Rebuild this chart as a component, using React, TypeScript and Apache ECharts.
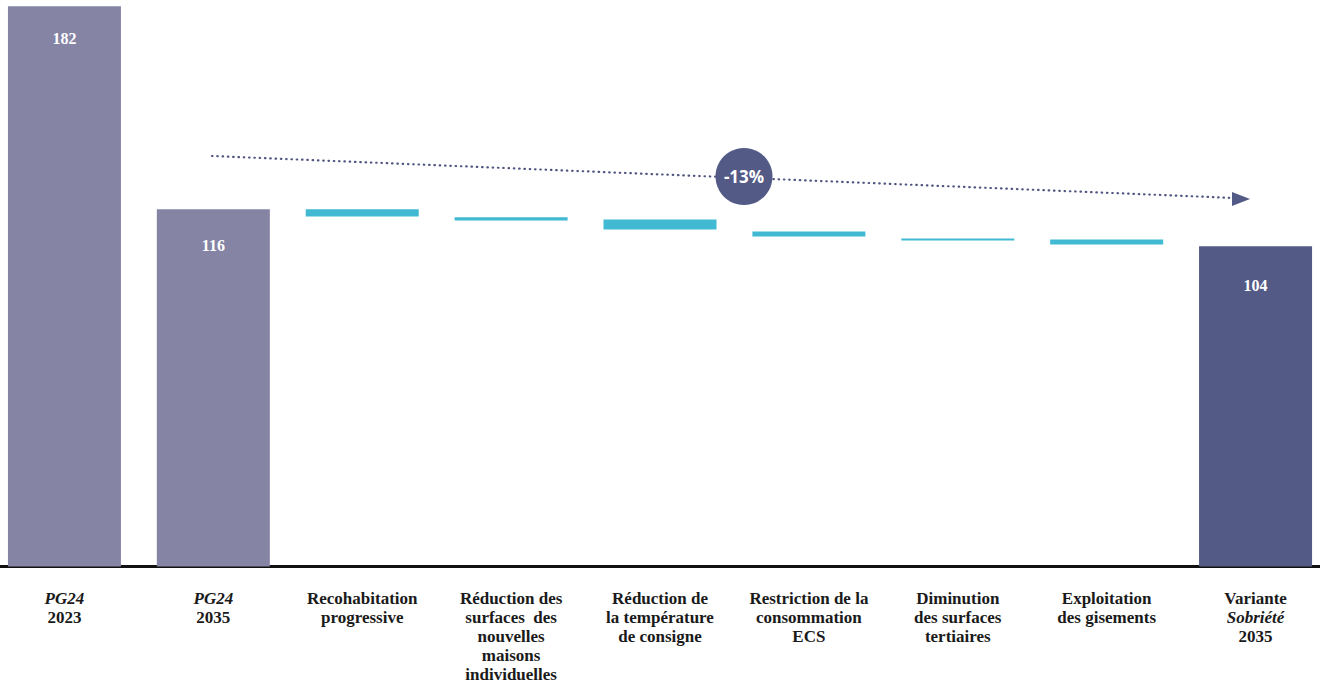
import React, { useEffect, useRef } from "react";
import * as echarts from "echarts";

const categories = [
  "PG24\n2023",
  "PG24\n2035",
  "Recohabitation\nprogressive",
  "Réduction des\nsurfaces  des\nnouvelles\nmaisons\nindividuelles",
  "Réduction de\nla température\nde consigne",
  "Restriction de la\nconsommation\nECS",
  "Diminution\ndes surfaces\ntertiaires",
  "Exploitation\ndes gisements",
  "Variante\nSobriété\n2035",
];
const italicLines = ["PG24", "Sobriété"];

// invisible base of each bar (bottom of the floating step)
const stepBase = [0, 0, 113.7, 112.4, 109.45, 107.2, 105.9, 104.6, 0];
// visible height of each bar
const barValue = [182, 116, 2.3, 1.0, 3.25, 1.6, 0.65, 1.6, 104];
// which bars are totals (labelled)
const isTotal = [true, true, false, false, false, false, false, false, true];
const labelDistance = [24, 28, 0, 0, 0, 0, 0, 0, 31];
const barColor = [
  "#8584a5", "#8584a5", "#41b9d3", "#41b9d3", "#41b9d3",
  "#41b9d3", "#41b9d3", "#41b9d3", "#525a85",
];
const trendLabel = "-13%";

const SERIF = "'Liberation Serif', 'DejaVu Serif', serif";
const OFF = 10; // chart container is shifted left by 10px

export default function App() {
  const ref = useRef<HTMLDivElement>(null);
  useEffect(() => {
    if (!ref.current) return;
    const chart = echarts.init(ref.current, null, { renderer: "svg" });
    const textStyle = {
      fontFamily: SERIF,
      fontWeight: "bold" as const,
      fontSize: 17,
      lineHeight: 19,
      color: "#1a1a1a",
    };
    chart.setOption({
      animation: false,
      grid: { left: 0, right: 0, top: 0, bottom: 120.5, containLabel: false },
      xAxis: {
        type: "category",
        data: categories,
        axisTick: { show: false },
        axisLine: { show: true, lineStyle: { color: "#111", width: 3 } },
        axisLabel: {
          interval: 0,
          margin: 22,
          ...textStyle,
          formatter: (v: string) =>
            v
              .split("\n")
              .map((l) => (italicLines.includes(l) ? `{i|${l}}` : `{b|${l}}`))
              .join("\n"),
          rich: {
            b: { ...textStyle },
            i: { ...textStyle, fontStyle: "italic" },
          },
        },
      },
      yAxis: {
        type: "value",
        min: 0,
        max: 184,
        show: false,
        splitLine: { show: false },
      },
      series: [
        {
          type: "bar",
          stack: "w",
          barWidth: 113,
          silent: true,
          itemStyle: { color: "transparent" },
          data: stepBase,
        },
        {
          type: "bar",
          stack: "w",
          barWidth: 113,
          data: barValue.map((v, i) => ({
            value: v,
            itemStyle: { color: barColor[i] },
            label: {
              show: isTotal[i],
              position: "insideTop",
              distance: labelDistance[i],
              formatter: "{c}",
              color: "#ffffff",
              fontFamily: SERIF,
              fontWeight: "bold",
              fontSize: 16,
            },
          })),
        },
      ],
      graphic: [
        {
          type: "line",
          shape: { x1: 212 + OFF, y1: 156, x2: 1234 + OFF, y2: 198 },
          style: {
            stroke: "#4f5580",
            lineWidth: 2.2,
            lineDash: [0.5, 4.8],
            lineCap: "round",
          },
          z: 10,
        },
        {
          type: "polygon",
          shape: {
            points: [
              [1232 + OFF, 192],
              [1250 + OFF, 199],
              [1232 + OFF, 206],
            ],
          },
          style: { fill: "#525a85" },
          z: 10,
        },
        {
          type: "circle",
          shape: { cx: 744 + OFF, cy: 176.5, r: 28.5 },
          style: { fill: "#525a85" },
          z: 11,
        },
        {
          type: "text",
          x: 744 + OFF,
          y: 176.5,
          style: {
            text: trendLabel,
            fill: "#ffffff",
            font: "bold 17px 'Open Sans', sans-serif",
            align: "center",
            verticalAlign: "middle",
          },
          z: 12,
        },
      ],
    });
    return () => chart.dispose();
  }, []);
  return (
    <div
      style={{
        position: "fixed",
        left: 0,
        top: 0,
        width: 1320,
        height: 687,
        overflow: "hidden",
        background: "#fff",
      }}
    >
      <div
        ref={ref}
        style={{ position: "absolute", left: -OFF, top: 0, width: 1340, height: 687 }}
      />
    </div>
  );
}
